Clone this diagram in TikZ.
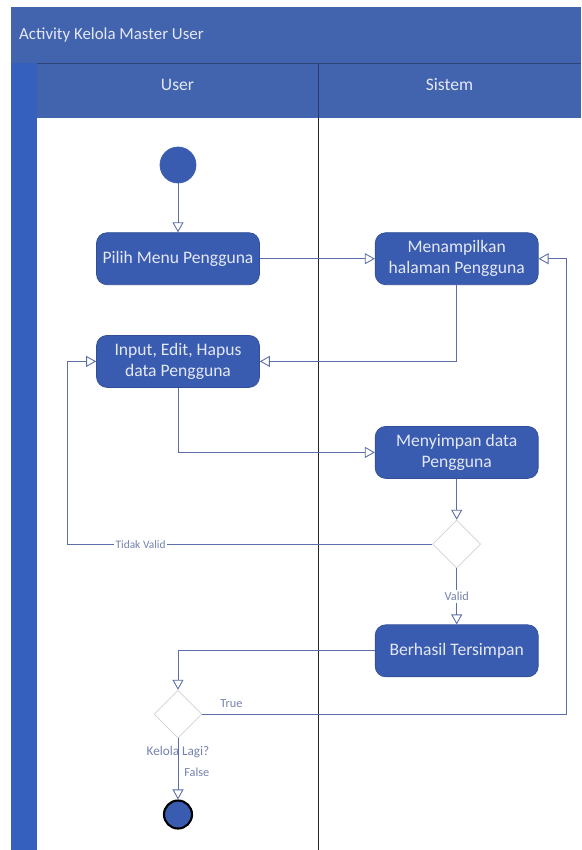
\documentclass[tikz,border=0pt]{standalone}
\usepackage{fontspec}
\setmainfont{Carlito}
\usepackage{tikz}
\usetikzlibrary{positioning,shapes.geometric,arrows.meta}

\definecolor{lanebg}{HTML}{4263AD}
\definecolor{strip}{HTML}{3560BE}
\definecolor{actfill}{HTML}{3A5CB0}
\definecolor{acttext}{HTML}{E4E8F6}
\definecolor{flow}{HTML}{5C6EA6}
\definecolor{lbltext}{HTML}{7482AE}

\begin{document}
\begin{tikzpicture}[
  node distance=5mm and 8mm,
  act/.style={draw=actfill!85!black,fill=actfill,rounded corners=6pt,align=center,minimum height=10.4mm,minimum width=32.6mm,text=acttext,font=\fontsize{10}{12}\selectfont},
  dec/.style={draw=gray!35,fill=white,diamond,inner sep=0pt,minimum width=9.6mm,minimum height=9.6mm},
  startpt/.style={circle,fill=actfill,draw=actfill,minimum size=7.2mm,inner sep=0pt},
  endpt/.style={circle,fill=actfill,draw=black,line width=1.2pt,minimum size=5.6mm,inner sep=0pt},
  arr/.style={-{Triangle[open,length=2mm,width=2.2mm]},draw=flow,line width=0.5pt},
  lbl/.style={font=\fontsize{7}{8}\selectfont,text=lbltext},
  lane/.style={font=\fontsize{10}{12}\selectfont,text=acttext}]
% swimlane frame
\useasboundingbox (0,0) rectangle (11.62,-17);
\fill[lanebg] (0.22,-0.14) rectangle (11.62,-17);
\fill[strip] (0.22,-1.26) rectangle (0.74,-17);
\fill[white] (0.74,-2.36) rectangle (11.62,-17);
\draw[lanebg!70!black,line width=0.4pt] (0.74,-1.26) -- (11.62,-1.26);
\draw[lanebg!60!black,line width=0.5pt] (6.36,-1.26) -- (6.36,-2.36);
\draw[black!85,line width=0.5pt] (6.36,-2.36) -- (6.36,-17);
\node[anchor=west,text=acttext,font=\fontsize{9.6}{11}\selectfont] (title) at (0.26,-0.7) {Activity Kelola Master User};
\node[lane] (userlane) at (3.55,-1.7) {User};
\node[lane] (sislane) at (8.99,-1.7) {Sistem};
% activities
\node[startpt] (start) at (3.56,-3.3) {};
\node[act,below=9.8mm of start] (pilih) {Pilih Menu Pengguna};
\node[act,right=23mm of pilih] (tampil) {Menampilkan\\halaman Pengguna};
\node[act,below=10mm of pilih] (input) {Input, Edit, Hapus\\data Pengguna};
\node[act,below=28.2mm of tampil] (simpan) {Menyimpan data\\Pengguna};
\node[dec,below=8.2mm of simpan] (valid) {};
\node[act,below=11.2mm of valid] (berhasil) {Berhasil Tersimpan};
\node[dec,below=60.4mm of input,label={[lbl,font=\fontsize{7.5}{9}\selectfont,label distance=1pt]below:Kelola Lagi?}] (lagi) {};
\node[endpt,below=12.2mm of lagi] (end) {};
\coordinate (lloop) at ([xshift=-5.7mm]input.west);
\coordinate (rloop) at ([xshift=5.5mm]tampil.east);
% flows
\draw[arr] (start) -- (pilih);
\draw[arr] (pilih) -- (tampil);
\draw[arr] (tampil.south) |- (input.east);
\draw[arr] (input.south) |- (simpan.west);
\draw[arr] (simpan) -- (valid);
\draw[arr] (valid.west) -| node[lbl,fill=white,inner sep=1pt,pos=0.4,font=\fontsize{6.5}{8}\selectfont]{Tidak Valid} (lloop) -- (input.west);
\draw[arr] (valid) -- node[lbl,fill=white,inner sep=1pt]{Valid} (berhasil);
\draw[arr] (berhasil.west) -| (lagi.north);
\draw[arr] (lagi.east) -| node[lbl,pos=0.04,above]{True} (rloop) -- (tampil.east);
\draw[arr] (lagi) -- node[lbl,right,pos=0.56]{False} (end);
\end{tikzpicture}
\end{document}
